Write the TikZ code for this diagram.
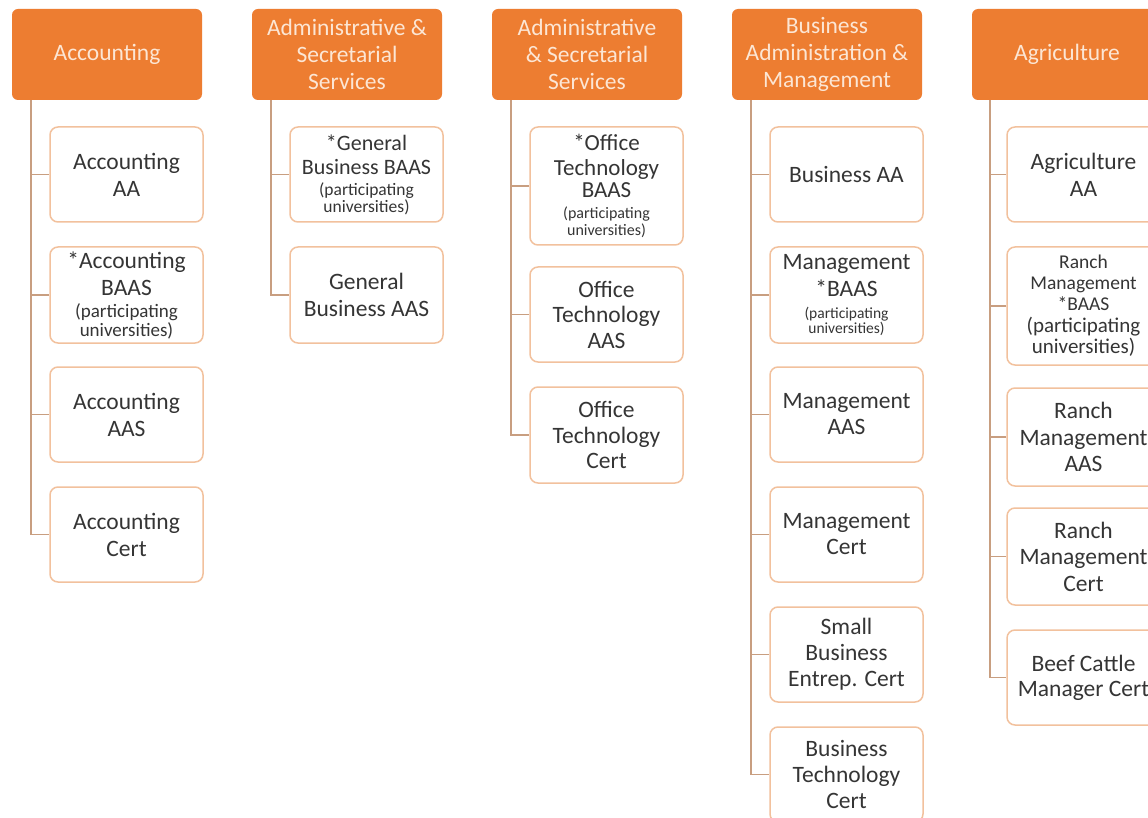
\documentclass[tikz,border=0pt]{standalone}
\usepackage{fontspec}
\setmainfont{Carlito}
\definecolor{hdr}{HTML}{ED7D31}
\definecolor{hdrtxt}{HTML}{FCE6D4}
\definecolor{bord}{HTML}{F2C19D}
\definecolor{conn}{HTML}{C89E80}
\definecolor{txt}{HTML}{353535}
\newcommand\fsz[3]{{\fontsize{#1}{#2}\selectfont #3}}
\begin{document}
\begin{tikzpicture}[x=1pt,y=-1pt,
  hdrbox/.style={fill=hdr, rounded corners=6pt, minimum width=190pt, minimum height=91pt,
    text=hdrtxt, align=center, font=\fontsize{23.5}{27}\selectfont, inner sep=0pt},
  kid/.style={draw=bord, line width=1.5pt, fill=white, rounded corners=8pt,
    minimum width=153pt, minimum height=95pt, text=txt, align=center,
    font=\fontsize{23.5}{27}\selectfont, inner sep=0pt},
  link/.style={draw=conn, line width=1.5pt}]
\useasboundingbox (0,0) rectangle (1148,818);
\clip (0,0) rectangle (1148,818);
\fill[white] (0,0) rectangle (1148,818);

% ---------- headers ----------
\node[hdrbox] (h1) at (107,54.5) {Accounting};
\node[hdrbox] (h2) at (347,54.5) {Administrative \&\\Secretarial\\Services};
\node[hdrbox] (h3) at (587,54.5) {Administrative\\\& Secretarial\\Services};
\node[hdrbox] (h4) at (827,54.5) {Business\\Administration \&\\Management};
\node[hdrbox] (h5) at (1067,54.5) {Agriculture};

\coordinate (t1) at ([xshift=19pt]h1.south west);
\coordinate (t2) at ([xshift=19pt]h2.south west);
\coordinate (t3) at ([xshift=19pt]h3.south west);
\coordinate (t4) at ([xshift=19pt]h4.south west);
\coordinate (t5) at ([xshift=18pt]h5.south west);

% ---------- column 1 ----------
\node[kid] (c11) at (126.5,174.5) {Accounting\\AA};
\node[kid, minimum height=96pt] (c12) at (126.5,295) {*Accounting\\BAAS\\[-5pt]\fsz{19}{19}{(participating}\\[-8pt]\fsz{19}{19}{universities)}};
\node[kid] (c13) at (126.5,414.5) {Accounting\\AAS};
\node[kid] (c14) at (126.5,534.5) {Accounting\\Cert};

% ---------- column 2 ----------
\node[kid] (c21) at (366.5,174.5) {\fsz{22}{24}{*General}\\[-3pt]\fsz{22}{24}{Business BAAS}\\[-6pt]\fsz{17.5}{18}{(participating}\\[-10pt]\fsz{17.5}{18}{universities)}};
\node[kid, minimum height=96pt] (c22) at (366.5,295) {General\\Business AAS};

% ---------- column 3 ----------
\node[kid, minimum height=118pt] (c31) at (606.5,186) {\fsz{23}{24}{*Office}\\[-2pt]\fsz{23}{24}{Technology}\\[-5pt]\fsz{23}{24}{BAAS}\\[-6pt]\fsz{16}{17}{(participating}\\[-10pt]\fsz{16}{17}{universities)}};
\node[kid] (c32) at (606.5,314.5) {Office\\[-1.5pt]Technology\\[-1.5pt]AAS};
\node[kid, minimum height=96pt] (c33) at (606.5,435) {Office\\[-1.5pt]Technology\\[-1.5pt]Cert};

% ---------- column 4 ----------
\node[kid] (c41) at (846.5,174.5) {Business AA};
\node[kid, minimum height=96pt] (c42) at (846.5,295) {Management\\*BAAS\\[-5pt]\fsz{15.5}{16}{(participating}\\[-12pt]\fsz{15.5}{16}{universities)}};
\node[kid] (c43) at (846.5,414.5) {Management\\[-1pt]AAS};
\node[kid] (c44) at (846.5,534.5) {Management\\[-1pt]Cert};
\node[kid] (c45) at (846.5,654.5) {Small\\[-1pt]Business\\[-1pt]Entrep. Cert};
\node[kid] (c46) at (846.5,774.5) {Business\\[-1pt]Technology\\[-1pt]Cert};

% ---------- column 5 ----------
\node[kid] (c51) at (1083.5,174.5) {Agriculture\\AA};
\node[kid, minimum height=118pt] (c52) at (1083.5,306) {\fsz{19.5}{21}{Ranch}\\[-6pt]\fsz{19.5}{21}{Management}\\[-6pt]\fsz{19.5}{21}{*BAAS}\\[-5pt]\fsz{21}{21}{(participating}\\[-6pt]\fsz{21}{21}{universities)}};
\node[kid, minimum height=98pt] (c53) at (1083.5,437) {Ranch\\[-0.5pt]Management\\[-0.5pt]AAS};
\node[kid, minimum height=97pt] (c54) at (1083.5,556.5) {Ranch\\[-0.5pt]Management\\[-0.5pt]Cert};
\node[kid] (c55) at (1083.5,677.5) {Beef Cattle\\[-2pt]Manager Cert};

% ---------- connectors ----------
\draw[link] (t1) |- (c14.west);
\foreach \c in {c11,c12,c13} \draw[link] (\c.west) -- (\c.west -| t1);
\draw[link] (t2) |- (c22.west);
\draw[link] (c21.west) -- (c21.west -| t2);
\draw[link] (t3) |- (c33.west);
\foreach \c in {c31,c32} \draw[link] (\c.west) -- (\c.west -| t3);
\draw[link] (t4) |- (c46.west);
\foreach \c in {c41,c42,c43,c44,c45} \draw[link] (\c.west) -- (\c.west -| t4);
\draw[link] (t5) |- (c55.west);
\foreach \c in {c51,c52,c53,c54} \draw[link] (\c.west) -- (\c.west -| t5);
\end{tikzpicture}
\end{document}
